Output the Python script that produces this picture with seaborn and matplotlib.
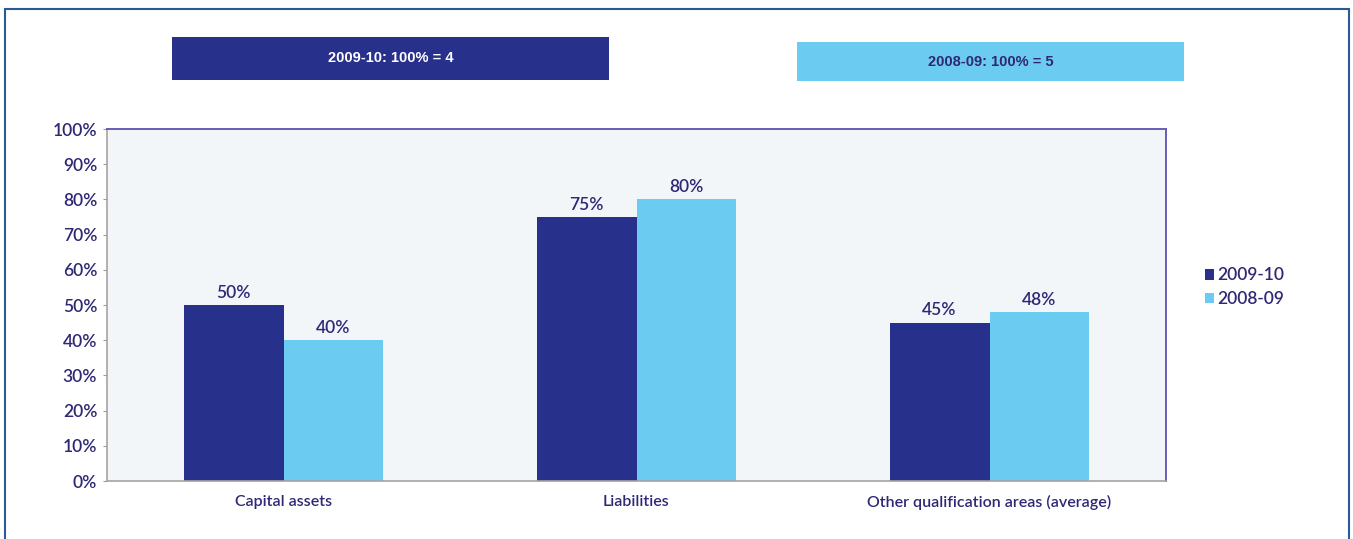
import matplotlib
matplotlib.use("Agg")
import matplotlib.pyplot as plt
from matplotlib.patches import Rectangle
import seaborn as sns
import pandas as pd

# Data
categories = ["Capital assets", "Liabilities", "Other qualification areas (average)"]
years = ["2009-10", "2008-09"]
values_2009_10 = [50, 75, 45]
values_2008_09 = [40, 80, 48]
header_labels = ["2009-10: 100% = 4", "2008-09: 100% = 5"]
y_ticks = [0, 10, 20, 30, 40, 50, 60, 70, 80, 90, 100]

df = pd.DataFrame({
    "category": categories * 2,
    "year": [years[0]] * 3 + [years[1]] * 3,
    "value": values_2009_10 + values_2008_09,
})

dark = "#27308a"
light = "#6ccbf1"
text_col = "#2e2875"

sns.set_theme(style="white")
plt.rcParams["font.family"] = ["Lato", "DejaVu Sans"]

W, H = 1353, 539
fig = plt.figure(figsize=(W / 100, H / 100), dpi=100)
fig.patch.set_facecolor("white")

# Outer frame (open at the bottom edge of the image)
fig.patches.append(Rectangle((5 / W, -0.05), (1349 - 5) / W, (539 - 9) / H + 0.05,
                             transform=fig.transFigure, fill=False,
                             edgecolor="#2a5a9a", linewidth=1.5, zorder=0))

ax = fig.add_axes([107 / W, (539 - 481) / H, (1166 - 107) / W, (481 - 129) / H])
ax.set_facecolor("#f3f6f9")

sns.barplot(data=df, x="category", y="value", hue="year", order=categories,
            hue_order=years, palette=[dark, light], width=0.566, gap=0,
            saturation=1, ax=ax, edgecolor="none")

ax.set_ylim(0, 100)
ax.set_xlim(-0.5, 2.5)
ax.set_yticks(y_ticks)
ax.set_yticklabels([f"{t}%" for t in y_ticks], color=text_col, fontsize=12.5,
                   fontweight="semibold")
ax.tick_params(axis="y", length=3, width=0.8, color="#a09a9a", pad=4, left=True)
ax.tick_params(axis="x", length=0, pad=10, labelsize=11.5, labelcolor=text_col)
for lbl in ax.get_xticklabels():
    lbl.set_fontweight("semibold")
ax.set_xlabel("")
ax.set_ylabel("")

for side in ["left", "bottom"]:
    ax.spines[side].set_color("#a8a2a2")
    ax.spines[side].set_linewidth(1.2)
for side in ["top", "right"]:
    ax.spines[side].set_color("#6a5cb8")
    ax.spines[side].set_linewidth(1.4)

for cont in ax.containers:
    ax.bar_label(cont, labels=[f"{v:.0f}%" for v in cont.datavalues],
                 padding=3, color=text_col, fontsize=12.5, fontweight="semibold")

leg = ax.legend(loc="center left", bbox_to_anchor=(1.03, 0.55), frameon=False,
                fontsize=12.5, handlelength=0.55, handleheight=0.55,
                handletextpad=0.2, labelspacing=0.45, borderaxespad=0)
for t in leg.get_texts():
    t.set_color(text_col)
    t.set_fontweight("semibold")

# Header boxes
fig.patches.append(Rectangle((172 / W, (539 - 80) / H), (609 - 172) / W, 43 / H,
                             transform=fig.transFigure, facecolor=dark,
                             edgecolor="none"))
fig.text((172 + 609) / 2 / W, (539 - 58.5) / H, header_labels[0], color="white",
         ha="center", va="center", fontsize=10.5, fontweight="bold",
         family="Liberation Sans")
fig.patches.append(Rectangle((797 / W, (539 - 81) / H), (1184 - 797) / W, 39 / H,
                             transform=fig.transFigure, facecolor=light,
                             edgecolor="none"))
fig.text((797 + 1184) / 2 / W, (539 - 61.5) / H, header_labels[1], color=text_col,
         ha="center", va="center", fontsize=10.5, fontweight="bold",
         family="Liberation Sans")

fig.savefig("out.png", dpi=100)
